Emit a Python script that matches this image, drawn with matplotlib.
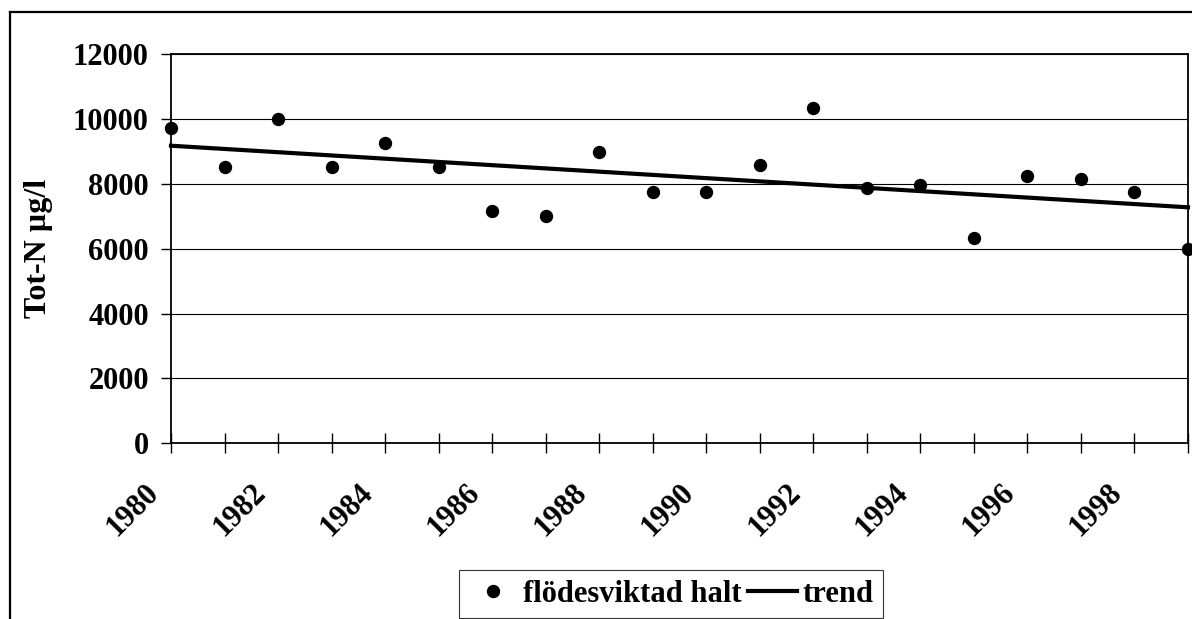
import matplotlib
matplotlib.use("Agg")
import matplotlib.pyplot as plt
from matplotlib.lines import Line2D
from matplotlib.transforms import ScaledTranslation, blended_transform_factory

years = list(range(1980, 2000))
halt = [9720, 8510, 10000, 8510, 9270, 8530, 7180, 7025, 8985, 7755,
        7760, 8595, 10340, 7880, 7955, 6340, 8255, 8155, 7765, 5980]
trend_years = [1980, 1999]
trend_values = [9180, 7280]
xlabel_years = list(range(1980, 1999, 2))
yticks = [0, 2000, 4000, 6000, 8000, 10000, 12000]

plt.rcParams['font.family'] = ['Liberation Serif', 'DejaVu Serif']
plt.rcParams['font.weight'] = 'bold'

W, H = 1192, 619
fig = plt.figure(figsize=(W / 100, H / 100), dpi=100)
ax = fig.add_axes([171 / W, 1 - 443.3 / H, (1188 - 171) / W, (443.3 - 54.3) / H])

# outer frame (only top and left visible)
fig.add_artist(Line2D([10 / W, 1.01], [1 - 12 / H, 1 - 12 / H], color='black', lw=1.6,
                      transform=fig.transFigure))
fig.add_artist(Line2D([10 / W, 10 / W], [-0.01, 1 - 12 / H], color='black', lw=1.6,
                      transform=fig.transFigure))

ax.set_xlim(1980, 1999)
ax.set_ylim(0, 12000)
ax.set_yticks(yticks)
ax.set_yticklabels([str(v) for v in yticks], fontsize=22, fontweight='bold')
ax.set_xticks(years)
ax.set_xticklabels([])
trans = blended_transform_factory(ax.transData, ax.transAxes) + \
    ScaledTranslation(-27 / 100, -35 / 100, fig.dpi_scale_trans)
for y in xlabel_years:
    ax.text(y, 0, str(y), transform=trans, fontsize=22, fontweight='bold', rotation=45,
            ha='right', va='top', rotation_mode='anchor', clip_on=False)
ax.grid(axis='y', color='black', lw=0.8)
ax.set_axisbelow(True)
for s in ax.spines.values():
    s.set_linewidth(1.3)
ax.tick_params(axis='y', direction='out', length=7, width=1, pad=9)
ax.tick_params(axis='x', direction='inout', length=14, width=1, pad=4)

sc, = ax.plot(years, halt, 'o', color='black', markersize=8.6, clip_on=False, zorder=4,
              label='flödesviktad halt')
tr, = ax.plot(trend_years, trend_values, '-', color='black', lw=3, clip_on=False, zorder=3,
              label='trend')

ax.set_ylabel('Tot-N µg/l', fontsize=23, fontweight='bold', labelpad=14)

leg = fig.legend(handles=[sc, tr], loc='center', bbox_to_anchor=(671 / W, 1 - 594 / H),
                 ncol=2, frameon=True, fancybox=False, handlelength=1.6,
                 handletextpad=0.2, columnspacing=0.2, borderpad=0.3,
                 prop={'weight': 'bold', 'size': 22})
leg.get_frame().set_edgecolor('black')
leg.get_frame().set_linewidth(0.8)

fig.savefig('out.png', dpi=100)
